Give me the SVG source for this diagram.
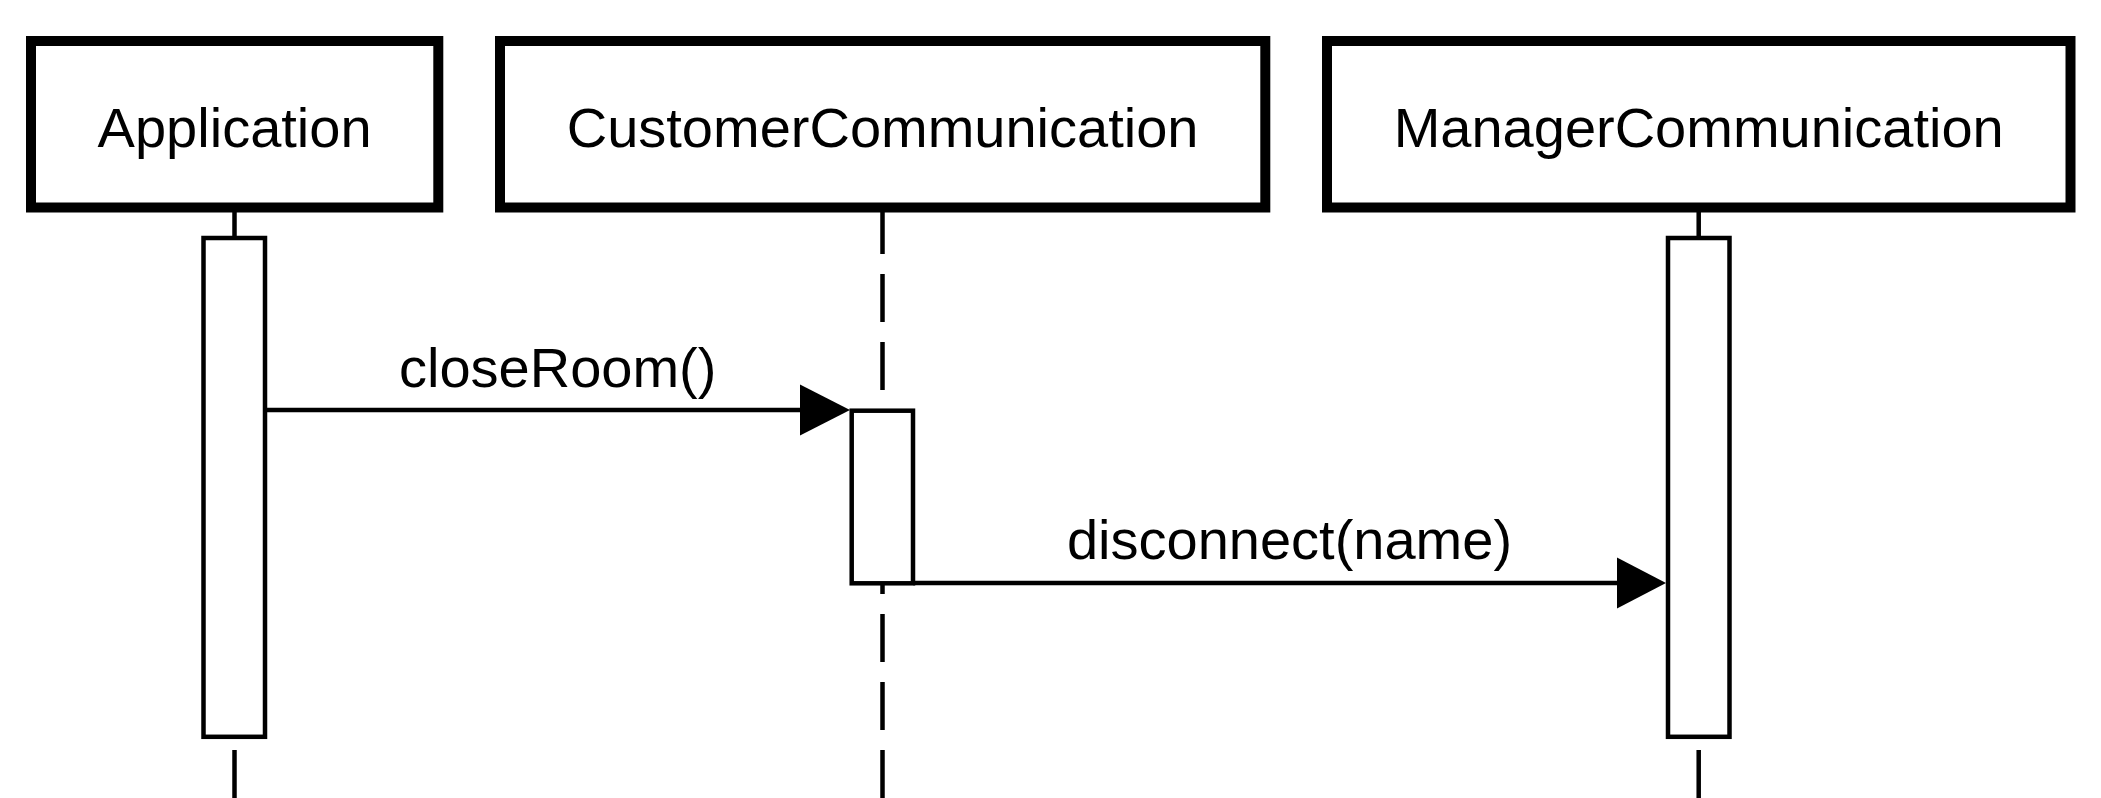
<svg xmlns="http://www.w3.org/2000/svg" width="2101" height="798" viewBox="0 0 2101 798">
<style>
.life{stroke:#000;stroke-width:4.5;stroke-dasharray:48 20;fill:none}
.box{fill:#fff;stroke:#000;stroke-width:10}
.act{fill:#fff;stroke:#000;stroke-width:4.5}
.msg{stroke:#000;stroke-width:4.5;fill:none}
.head{fill:#000;stroke:none}
text{font-family:"Liberation Sans",Arial,sans-serif;font-size:56px;fill:#000;text-anchor:middle}
</style>
<rect width="2101" height="798" fill="#fff"/>
<g id="lifelines">
<line class="life" x1="234.5" y1="206" x2="234.5" y2="798"/>
<line class="life" x1="882.5" y1="206" x2="882.5" y2="798"/>
<line class="life" x1="1698.7" y1="206" x2="1698.7" y2="798"/>
</g>
<g id="application">
<rect class="box" x="31" y="41" width="407.3" height="166.5"/>
<text x="234.6" y="146.5">Application</text>
<rect class="act" x="203.5" y="238" width="61.5" height="498.8"/>
</g>
<g id="customercommunication">
<rect class="box" x="500" y="41" width="765.3" height="166.5"/>
<text x="882.6" y="146.5">CustomerCommunication</text>
<rect class="act" x="851.7" y="410.7" width="61.3" height="172.6"/>
</g>
<g id="managercommunication">
<rect class="box" x="1327" y="41" width="743.5" height="166.5"/>
<text x="1698.7" y="146.5">ManagerCommunication</text>
<rect class="act" x="1668" y="238" width="61.5" height="498.8"/>
</g>
<g id="connectors">
<path class="msg" d="M265.5 410 H802"/>
<polygon class="head" points="800,384.5 850,410 800,435.5"/>
<text x="557.7" y="386.5">closeRoom()</text>
<path class="msg" d="M913 583 H1619"/>
<polygon class="head" points="1617,557.5 1666,583 1617,608.5"/>
<text x="1289.5" y="558.5">disconnect(name)</text>
</g>
</svg>
